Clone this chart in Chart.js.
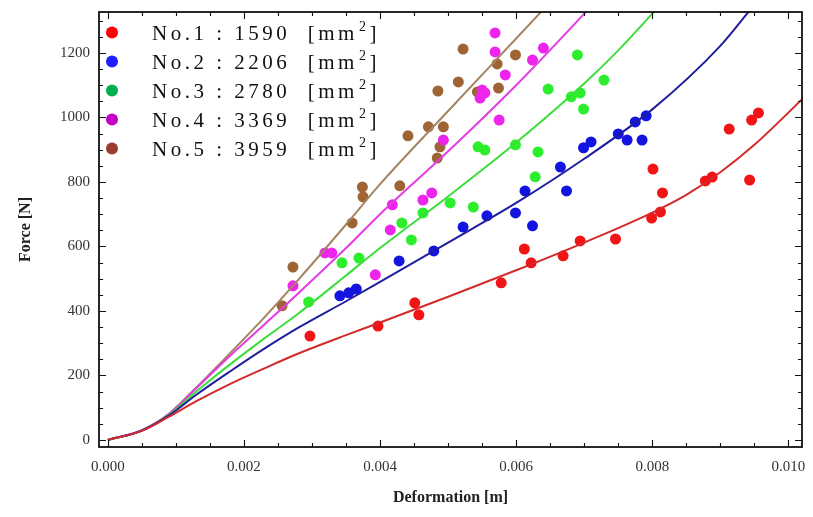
<!DOCTYPE html>
<html><head><meta charset="utf-8">
<script src="https://cdn.jsdelivr.net/npm/chart.js@4/dist/chart.umd.min.js"></script>
<style>html,body{margin:0;padding:0;background:#fff;}#wrap{width:813px;height:517px;}</style>
</head><body><div id="wrap"><canvas id="c" width="813" height="517"></canvas></div>
<script>
// ---------- data ----------
const seriesNames = ['No.1', 'No.2', 'No.3', 'No.4', 'No.5'];
const areas = [1590, 2206, 2780, 3369, 3959];
const areaUnit = 'mm';
const xTickValues = [0, 0.002, 0.004, 0.006, 0.008, 0.010];
const yTickValues = [0, 200, 400, 600, 800, 1000, 1200];

// measured points (deformation [m], force [N])
const defX1 = [0.00297, 0.00397, 0.00451, 0.00457, 0.00578, 0.00612, 0.00622, 0.00669, 0.00694, 0.00746, 0.00801, 0.00815, 0.00799, 0.00812, 0.00878, 0.00888, 0.00913, 0.00943, 0.00946, 0.00956];
const force1 = [322, 353, 425, 388, 487, 592, 549, 571, 617, 623, 840, 766, 688, 707, 803, 815, 964, 806, 992, 1014];
const defX2 = [0.00341, 0.00354, 0.00365, 0.00428, 0.00479, 0.00522, 0.00557, 0.00599, 0.00613, 0.00624, 0.00665, 0.00674, 0.00699, 0.00710, 0.00750, 0.00763, 0.00775, 0.00791, 0.00785];
const force2 = [447, 456, 468, 555, 586, 660, 695, 704, 772, 664, 846, 772, 906, 924, 949, 930, 986, 1005, 930];
const defX3 = [0.00295, 0.00344, 0.00369, 0.00432, 0.00446, 0.00463, 0.00503, 0.00537, 0.00544, 0.00554, 0.00599, 0.00632, 0.00628, 0.00647, 0.00681, 0.00694, 0.00699, 0.00690, 0.00729];
const force3 = [428, 549, 564, 673, 620, 704, 735, 722, 909, 899, 915, 893, 816, 1088, 1064, 1076, 1026, 1194, 1116];
const defX4 = [0.00272, 0.00319, 0.00329, 0.00393, 0.00415, 0.00418, 0.00463, 0.00476, 0.00493, 0.00547, 0.00550, 0.00554, 0.00575, 0.00569, 0.00569, 0.00584, 0.00624, 0.00640];
const force4 = [478, 580, 580, 512, 651, 729, 744, 766, 930, 1060, 1085, 1076, 992, 1262, 1203, 1132, 1178, 1215];
const defX5 = [0.00256, 0.00272, 0.00359, 0.00374, 0.00375, 0.00429, 0.00441, 0.00471, 0.00493, 0.00488, 0.00484, 0.00485, 0.00515, 0.00522, 0.00572, 0.00599, 0.00543, 0.00574];
const force5 = [416, 536, 673, 784, 754, 788, 943, 971, 971, 909, 874, 1082, 1110, 1212, 1166, 1194, 1079, 1091];

// fitted curves
const fitX1 = [0, 0.0005, 0.0009, 0.0013, 0.0018, 0.0023, 0.0028, 0.0035, 0.004, 0.005, 0.006, 0.007, 0.008, 0.0085, 0.009, 0.0095, 0.010, 0.0103];
const fitF1 = [0, 28, 72, 120, 174, 222, 268, 325, 364, 444, 526, 612, 705, 760, 830, 915, 1015, 1078];
const fitX2 = [0, 0.0005, 0.0009, 0.0013, 0.0018, 0.0023, 0.0028, 0.0035, 0.004, 0.005, 0.006, 0.007, 0.008, 0.009, 0.0095];
const fitF2 = [0, 29, 76, 140, 213, 283, 348, 430, 490, 612, 735, 872, 1025, 1222, 1350];
const fitX3 = [0, 0.0005, 0.0009, 0.0013, 0.0018, 0.0023, 0.0028, 0.0035, 0.004, 0.005, 0.006, 0.007, 0.0075, 0.008, 0.0081];
const fitF3 = [0, 29, 78, 150, 235, 315, 392, 510, 595, 755, 922, 1105, 1208, 1322, 1346];
const fitX4 = [0, 0.0005, 0.0009, 0.0013, 0.0018, 0.0023, 0.0028, 0.0035, 0.004, 0.005, 0.006, 0.007, 0.0071];
const fitF4 = [0, 30, 80, 160, 262, 358, 455, 595, 700, 895, 1100, 1322, 1345];
const fitX5 = [0, 0.0005, 0.0009, 0.0013, 0.0018, 0.0023, 0.0028, 0.0035, 0.004, 0.005, 0.006, 0.0064];
const fitF5 = [0, 30, 82, 163, 270, 380, 497, 668, 793, 1020, 1245, 1335];

// ---------- styles ----------
const pointColors = ['#f21414', '#1414e0', '#2cee2c', '#ec24ec', '#9e6434'];
const lineColors = ['#d42a2a', '#1e1e9e', '#3ade3a', '#e43ce4', '#a48462'];
const legendColors = ['#ff0000', '#1e1eff', '#00b04e', '#c400c4', '#9a3c30'];

const ptsX = [defX1, defX2, defX3, defX4, defX5];
const ptsY = [force1, force2, force3, force4, force5];
const fitXs = [fitX1, fitX2, fitX3, fitX4, fitX5];
const fitYs = [fitF1, fitF2, fitF3, fitF4, fitF5];

const zip = (xs, ys) => xs.map((x, i) => ({x: x, y: ys[i]}));

const datasets = [];
for (let i = 0; i < 5; i++) {
  datasets.push({
    type: 'line', label: seriesNames[i] + ' fit', data: zip(fitXs[i], fitYs[i]),
    borderColor: lineColors[i], borderWidth: 2, pointRadius: 0, fill: false,
    cubicInterpolationMode: 'monotone', order: 0
  });
}
for (let i = 0; i < 5; i++) {
  datasets.push({
    type: 'scatter', label: seriesNames[i] + ' : ' + areas[i] + ' [' + areaUnit + '²]',
    data: zip(ptsX[i], ptsY[i]),
    backgroundColor: pointColors[i], borderWidth: 0, pointRadius: 5.5, order: 1
  });
}

const SERIF = '"Liberation Serif", "DejaVu Serif", serif';

const framePlugin = {
  id: 'frameTicksLegend',
  afterDraw(chart) {
    const {ctx, chartArea: a, scales} = chart;
    const x = scales.x, y = scales.y;
    ctx.save();
    ctx.strokeStyle = '#111';
    ctx.lineWidth = 1.1;
    ctx.beginPath();
    for (let i = 0; i <= 20; i++) {
      const px = Math.round(x.getPixelForValue(i * 0.0005)) + 0.5;
      const len = i % 4 === 0 ? 7 : 4;
      ctx.moveTo(px, a.bottom); ctx.lineTo(px, a.bottom - len);
      ctx.moveTo(px, a.top); ctx.lineTo(px, a.top + len);
    }
    for (let i = 0; i <= 26; i++) {
      const py = Math.round(y.getPixelForValue(i * 50)) + 0.5;
      const len = i % 4 === 0 ? 7 : 4;
      ctx.moveTo(a.left, py); ctx.lineTo(a.left + len, py);
      ctx.moveTo(a.right, py); ctx.lineTo(a.right - len, py);
    }
    ctx.stroke();
    ctx.lineWidth = 1.8;
    ctx.strokeRect(a.left, a.top, a.right - a.left, a.bottom - a.top);

    // legend
    const lx = a.left + 13, ly0 = a.top + 20.5, dy = 29;
    for (let i = 0; i < 5; i++) {
      const cy = ly0 + i * dy;
      ctx.fillStyle = legendColors[i];
      ctx.beginPath(); ctx.arc(lx, cy, 6, 0, Math.PI * 2); ctx.fill();
      ctx.fillStyle = '#111';
      ctx.textBaseline = 'alphabetic';
      ctx.textAlign = 'left';
      ctx.font = '21px ' + SERIF;
      if ('letterSpacing' in ctx) ctx.letterSpacing = '3.5px';
      let tx = a.left + 53;
      const base = cy + 7.5;
      const main = seriesNames[i] + ' : ' + areas[i] + '  [' + areaUnit;
      ctx.fillText(main, tx, base);
      tx += ctx.measureText(main).width;
      ctx.font = '14px ' + SERIF;
      ctx.fillText('2', tx + 1, base - 9);
      tx += ctx.measureText('2').width + 1;
      ctx.font = '21px ' + SERIF;
      ctx.fillText(']', tx, base);
      if ('letterSpacing' in ctx) ctx.letterSpacing = '0px';
    }
    ctx.restore();
  }
};

const zeroPad = s => { s.paddingTop = 0; s.paddingBottom = 0; s.paddingLeft = 0; s.paddingRight = 0; };

new Chart(document.getElementById('c'), {
  data: {datasets: datasets},
  options: {
    responsive: false, animation: false, devicePixelRatio: 1,
    layout: {padding: {top: 12, right: 11, left: 0, bottom: 0}},
    plugins: {legend: {display: false}, tooltip: {enabled: false}},
    scales: {
      x: {
        type: 'linear', position: 'bottom', min: -0.00013, max: 0.0102,
        grid: {display: false, drawTicks: false}, border: {display: false},
        afterBuildTicks: s => { s.ticks = xTickValues.map(v => ({value: v})); },
        afterFit: s => { s.height = 70; zeroPad(s); },
        ticks: {
          font: {family: SERIF, size: 15}, color: '#333', padding: 11,
          maxRotation: 0, autoSkip: false, callback: v => Number(v).toFixed(3)
        },
        title: {display: true, text: 'Deformation [m]', color: '#222',
          font: {family: SERIF, size: 16, weight: 'bold'}, padding: {top: 0, bottom: 10}}
      },
      y: {
        type: 'linear', position: 'left', min: -22, max: 1327,
        grid: {display: false, drawTicks: false}, border: {display: false},
        afterBuildTicks: s => { s.ticks = yTickValues.map(v => ({value: v})); },
        afterFit: s => { s.width = 99; zeroPad(s); },
        ticks: {font: {family: SERIF, size: 15}, color: '#333', padding: 9, autoSkip: false,
          callback: v => String(Math.round(v))},
        title: {display: true, text: 'Force [N]', color: '#222',
          font: {family: SERIF, size: 16, weight: 'bold'}, padding: {top: 16, bottom: 0}}
      }
    }
  },
  plugins: [framePlugin]
});
</script></body></html>
